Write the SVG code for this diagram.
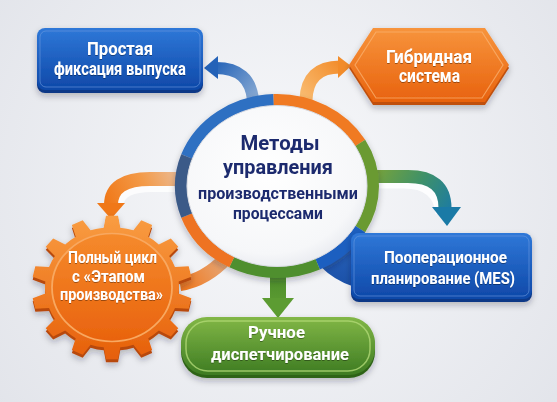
<svg xmlns="http://www.w3.org/2000/svg" xmlns:xlink="http://www.w3.org/1999/xlink" width="557" height="402" viewBox="0 0 557 402">
<defs>
<style>
.t{font-family:Roboto,"Noto Sans","DejaVu Sans",sans-serif;font-weight:700;text-anchor:middle}
.w{fill:#ffffff;filter:url(#ts)}
.n{fill:#1d2b6e}
.seg{fill:none;stroke-width:12}
.band{fill:none;stroke-linecap:butt}
</style>
<radialGradient id="bg" cx="280" cy="190" r="360" gradientUnits="userSpaceOnUse">
<stop offset="0" stop-color="#f8f9fb"/><stop offset="1" stop-color="#e2e4ea"/>
</radialGradient>
<radialGradient id="gWhite" cx="0.45" cy="0.4" r="0.65">
<stop offset="0" stop-color="#ffffff"/><stop offset="0.8" stop-color="#f6f7f9"/><stop offset="1" stop-color="#e6e8ee"/>
</radialGradient>
<linearGradient id="gBlueBox" x1="0" y1="0" x2="0" y2="1">
<stop offset="0" stop-color="#2f78d8"/><stop offset="1" stop-color="#0e48a8"/>
</linearGradient>
<linearGradient id="gHex" x1="0" y1="0" x2="0" y2="1">
<stop offset="0" stop-color="#f7943c"/><stop offset="1" stop-color="#e8620e"/>
</linearGradient>
<linearGradient id="gGreen" x1="0" y1="0" x2="0" y2="1">
<stop offset="0" stop-color="#82b746"/><stop offset="1" stop-color="#3d7b22"/>
</linearGradient>
<linearGradient id="gGear" x1="0" y1="-80" x2="0" y2="80" gradientUnits="userSpaceOnUse">
<stop offset="0" stop-color="#f99d42"/><stop offset="1" stop-color="#e65f0a"/>
</linearGradient>
<linearGradient id="gGearIn" x1="0" y1="-60" x2="0" y2="60" gradientUnits="userSpaceOnUse">
<stop offset="0" stop-color="#f58a2c"/><stop offset="1" stop-color="#e9630e"/>
</linearGradient>
<linearGradient id="gBlueArrow" x1="253" y1="100" x2="212" y2="67" gradientUnits="userSpaceOnUse">
<stop offset="0" stop-color="#86a8d2"/><stop offset="1" stop-color="#2463b8"/>
</linearGradient>
<linearGradient id="gOrangeArrow" x1="305" y1="100" x2="345" y2="67" gradientUnits="userSpaceOnUse">
<stop offset="0" stop-color="#f9bb70"/><stop offset="1" stop-color="#f28c2a"/>
</linearGradient>
<linearGradient id="gTeal" x1="372" y1="176" x2="447" y2="222" gradientUnits="userSpaceOnUse">
<stop offset="0" stop-color="#78a33a"/><stop offset="0.5" stop-color="#3f9168"/><stop offset="1" stop-color="#1a7aa6"/>
</linearGradient>
<linearGradient id="gOrangeL" x1="180" y1="179" x2="111" y2="212" gradientUnits="userSpaceOnUse">
<stop offset="0" stop-color="#ebba92"/><stop offset="0.45" stop-color="#f39a48"/><stop offset="1" stop-color="#f07818"/>
</linearGradient>
<linearGradient id="gOrangeC" x1="183" y1="285" x2="226" y2="258" gradientUnits="userSpaceOnUse">
<stop offset="0" stop-color="#ef7a22"/><stop offset="1" stop-color="#e6aa7c"/>
</linearGradient>
<linearGradient id="gGreenDown" x1="0" y1="270" x2="0" y2="318" gradientUnits="userSpaceOnUse">
<stop offset="0" stop-color="#4a8a2a"/><stop offset="1" stop-color="#62a235"/>
</linearGradient>
<linearGradient id="gWedge" x1="0" y1="236" x2="0" y2="288" gradientUnits="userSpaceOnUse">
<stop offset="0" stop-color="#2a66c0"/><stop offset="1" stop-color="#1a4fa6"/>
</linearGradient>
<filter id="sh" x="-20%" y="-20%" width="140%" height="150%">
<feDropShadow dx="0" dy="3" stdDeviation="3" flood-color="#1a2233" flood-opacity="0.28"/>
</filter>
<filter id="ts" x="-10%" y="-30%" width="120%" height="160%">
<feDropShadow dx="0" dy="1" stdDeviation="0.6" flood-color="#000" flood-opacity="0.35"/>
</filter>
<polygon id="tooth" points="-9,-62 -6,-80 6,-80 9,-62"/>
<clipPath id="gearClip">
<circle cx="0" cy="0" r="67"/>
<use xlink:href="#tooth"/>
<use xlink:href="#tooth" transform="rotate(25.714)"/>
<use xlink:href="#tooth" transform="rotate(51.429)"/>
<use xlink:href="#tooth" transform="rotate(77.143)"/>
<use xlink:href="#tooth" transform="rotate(102.857)"/>
<use xlink:href="#tooth" transform="rotate(128.571)"/>
<use xlink:href="#tooth" transform="rotate(154.286)"/>
<use xlink:href="#tooth" transform="rotate(180)"/>
<use xlink:href="#tooth" transform="rotate(205.714)"/>
<use xlink:href="#tooth" transform="rotate(231.429)"/>
<use xlink:href="#tooth" transform="rotate(257.143)"/>
<use xlink:href="#tooth" transform="rotate(282.857)"/>
<use xlink:href="#tooth" transform="rotate(308.571)"/>
<use xlink:href="#tooth" transform="rotate(334.286)"/>
</clipPath>
</defs>

<rect width="557" height="402" fill="url(#bg)"/>

<g id="connectors">
  <path d="M 372 184 L 404 184 Q 438 184 440 214" class="band" stroke="#ffffff" stroke-width="9" opacity="0.85"/>
  <path d="M 178 188 L 152 188 Q 120 188 119 206" class="band" stroke="#ffffff" stroke-width="8" opacity="0.8"/>
  <path d="M 253 100 Q 250 68 216 68" class="band" stroke="url(#gBlueArrow)" stroke-width="12"/>
  <polygon points="218,56 204,68 218,79" fill="#2462b8"/>
  <path d="M 306 100 Q 307 67 340 67" class="band" stroke="url(#gOrangeArrow)" stroke-width="13"/>
  <polygon points="338,56 351,66 338,78" fill="#f28c2a"/>
  <path d="M 370 176.5 L 408 176.5 Q 445 176.5 445 208" class="band" stroke="url(#gTeal)" stroke-width="13"/>
  <polygon points="432,207 461,207 447,226" fill="#1a7aa6"/>
  <path d="M 182 179 L 150 179 Q 111 179 111 205" class="band" stroke="url(#gOrangeL)" stroke-width="14"/>
  <polygon points="97,203 125,203 111,219" fill="#f07818"/>
  <path d="M 180 284 Q 206 280 227 257" class="band" stroke="url(#gOrangeC)" stroke-width="14"/>
  <rect x="270" y="268" width="16" height="32" fill="url(#gGreenDown)"/>
  <polygon points="262,298 294,298 278,318" fill="#5c9c32"/>
  <path d="M 320 266 L 352 238 L 352 286 Q 334 280 320 266 Z" fill="url(#gWedge)"/>
</g>

<g id="center" filter="url(#sh)">
  <path class="seg" stroke="#2f6fc2" d="M 186.79 156.59 A 96 86 0 0 1 273.65 100.05"/>
  <path class="seg" stroke="#f07a22" d="M 273.65 100.05 A 96 86 0 0 1 360.14 143"/>
  <path class="seg" stroke="#6a9a32" d="M 360.14 143 A 96 86 0 0 1 360.14 229"/>
  <path class="seg" stroke="#1f5fc0" d="M 360.14 229 A 96 86 0 0 1 317.57 263.94"/>
  <path class="seg" stroke="#4f8f2f" d="M 317.57 263.94 A 96 86 0 0 1 231.93 261.93"/>
  <path class="seg" stroke="#ee7320" d="M 231.93 261.93 A 96 86 0 0 1 186.79 215.41"/>
  <path class="seg" stroke="#3b5a88" d="M 186.79 215.41 A 96 86 0 0 1 186.79 156.59"/>
  <ellipse cx="277" cy="186" rx="90" ry="80.5" fill="url(#gWhite)" stroke="#d8dbe2" stroke-width="1"/>
  <text class="t n" x="280" y="150" font-size="20" textLength="79" lengthAdjust="spacingAndGlyphs">Методы</text>
  <text class="t n" x="278" y="174" font-size="20" textLength="110" lengthAdjust="spacingAndGlyphs">управления</text>
  <text class="t n" x="278" y="199" font-size="17" textLength="160" lengthAdjust="spacingAndGlyphs">производственными</text>
  <text class="t n" x="278" y="219" font-size="17" textLength="90" lengthAdjust="spacingAndGlyphs">процессами</text>
</g>

<g id="node-simple" filter="url(#sh)">
  <rect x="37" y="31" width="166" height="62" rx="8" fill="#0a3886"/>
  <rect x="37" y="28" width="166" height="62" rx="8" fill="url(#gBlueBox)"/>
  <rect x="40" y="31" width="160" height="56" rx="6" fill="none" stroke="#6a9be0" stroke-opacity="0.6" stroke-width="1"/>
  <text class="t w" x="120" y="55" font-size="18" textLength="66" lengthAdjust="spacingAndGlyphs">Простая</text>
  <text class="t w" x="120" y="75" font-size="18" textLength="132" lengthAdjust="spacingAndGlyphs">фиксация выпуска</text>
</g>

<g id="node-hybrid" filter="url(#sh)">
  <polygon points="349,68 373,31 485,31 509,68 485,105 373,105" fill="#c0500c"/>
  <polygon points="349,65 373,28 485,28 509,65 485,102 373,102" fill="url(#gHex)"/>
  <polygon points="355,65 376,32 482,32 503,65 482,98 376,98" fill="none" stroke="#fbb575" stroke-opacity="0.7" stroke-width="1.2"/>
  <text class="t w" x="429" y="63" font-size="18" textLength="86" lengthAdjust="spacingAndGlyphs">Гибридная</text>
  <text class="t w" x="429.5" y="82" font-size="18" textLength="61" lengthAdjust="spacingAndGlyphs">система</text>
</g>

<g id="node-mes" filter="url(#sh)">
  <rect x="351" y="236" width="181" height="66" rx="8" fill="#0a3886"/>
  <rect x="351" y="233" width="181" height="66" rx="8" fill="url(#gBlueBox)"/>
  <rect x="354" y="236" width="175" height="60" rx="6" fill="none" stroke="#6a9be0" stroke-opacity="0.6" stroke-width="1"/>
  <text class="t w" x="445.5" y="263" font-size="16" textLength="123" lengthAdjust="spacingAndGlyphs">Пооперационное</text>
  <text class="t w" x="443" y="284" font-size="16" textLength="144" lengthAdjust="spacingAndGlyphs">планирование (MES)</text>
</g>

<g id="node-manual" filter="url(#sh)">
  <rect x="181" y="320" width="194" height="58" rx="26" fill="#2f6418"/>
  <rect x="181" y="317" width="194" height="58" rx="26" fill="url(#gGreen)"/>
  <rect x="186" y="321" width="184" height="50" rx="22" fill="none" stroke="#b0d876" stroke-opacity="0.8" stroke-width="1.5"/>
  <text class="t w" x="276.5" y="338" font-size="16" textLength="57" lengthAdjust="spacingAndGlyphs">Ручное</text>
  <text class="t w" x="280" y="360" font-size="16" textLength="138" lengthAdjust="spacingAndGlyphs">диспетчирование</text>
</g>

<g id="node-fullcycle" filter="url(#sh)">
  <g transform="translate(112,290.5) scale(1,0.9)">
    <rect x="-90" y="-90" width="180" height="180" fill="#b84a08" clip-path="url(#gearClip)"/>
  </g>
  <g transform="translate(112,287.5) scale(1,0.9)">
    <rect x="-90" y="-90" width="180" height="180" fill="url(#gGear)" clip-path="url(#gearClip)"/>
    <circle cx="0" cy="0" r="60" fill="url(#gGearIn)" stroke="#f8a860" stroke-width="1.8"/>
  </g>
  <text class="t w" x="112.5" y="263" font-size="16" textLength="89" lengthAdjust="spacingAndGlyphs">Полный цикл</text>
  <text class="t w" x="108.5" y="282" font-size="16" textLength="73" lengthAdjust="spacingAndGlyphs">с «Этапом</text>
  <text class="t w" x="111.5" y="300" font-size="16" textLength="103" lengthAdjust="spacingAndGlyphs">производства»</text>
</g>
</svg>
